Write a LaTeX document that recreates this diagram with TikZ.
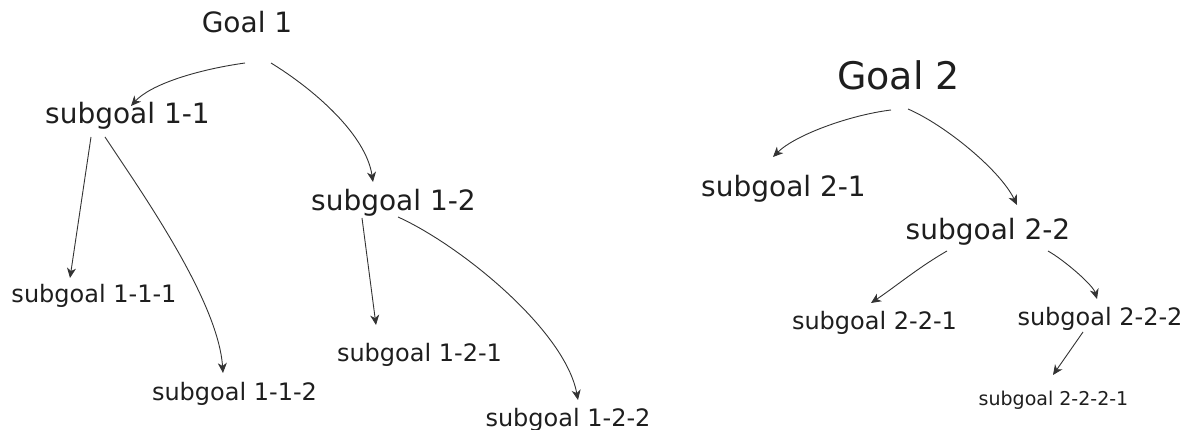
\documentclass[tikz,border=0pt]{standalone}
\usepackage{fontspec}
\setmainfont{DejaVu Sans}
\usetikzlibrary{arrows.meta}

\definecolor{inkgray}{HTML}{1E1E1E}
\definecolor{linegray}{HTML}{333333}

\tikzset{
  goalbig/.style={anchor=base, inner sep=0pt, text=inkgray, font=\fontsize{38}{40}\selectfont},
  goal/.style={anchor=base, inner sep=0pt, text=inkgray, font=\fontsize{28}{30}\selectfont},
  subgoal/.style={anchor=base, inner sep=0pt, text=inkgray, font=\fontsize{24}{26}\selectfont},
  subsub/.style={anchor=base, inner sep=0pt, text=inkgray, font=\fontsize{19}{21}\selectfont},
  link/.style={-{Stealth[length=10pt,width=9pt,inset=3pt]}, draw=linegray, line width=0.9pt}
}

\begin{document}
\begin{tikzpicture}[x=1pt, y=-1pt]
    \useasboundingbox (0,0) rectangle (1189,430);

    % first tree
    \node[goal] (g1) at (247,33) {Goal 1};
    \node[goal] (s11) at (127.5,124) {subgoal 1-1};
    \node[goal] (s12) at (393.5,211) {subgoal 1-2};
    \node[subgoal] (s111) at (94,303) {subgoal 1-1-1};
    \node[subgoal] (s112) at (234.5,400) {subgoal 1-1-2};
    \node[subgoal] (s121) at (419.5,361) {subgoal 1-2-1};
    \node[subgoal] (s122) at (568,426) {subgoal 1-2-2};

    \draw [link] ([shift={(-2,30)}]g1.base) .. controls +(-50,7) and +(19,-21) .. ([shift={(3.5,-18)}]s11.base);
    \draw [link] ([shift={(24,30)}]g1.base) .. controls +(44,27) and +(-7,-47) .. ([shift={(-20.5,-29)}]s12.base);
    \draw [link] ([shift={(-36.5,13)}]s11.base) -- ([shift={(-24,-25)}]s111.base);
    \draw [link] ([shift={(-22.5,13)}]s11.base) .. controls +(35,53) and +(-5,-73) .. ([shift={(-11.5,-27)}]s112.base);
    \draw [link] ([shift={(-31.5,7)}]s12.base) -- ([shift={(-43.5,-36)}]s121.base);
    \draw [link] ([shift={(4.5,6)}]s12.base) .. controls +(62,28) and +(-13,-70) .. ([shift={(10,-26)}]s122.base);

    % second tree
    \node[goalbig] (g2) at (898.5,90) {Goal 2};
    \node[goal] (s21) at (783.5,197) {subgoal 2-1};
    \node[goal] (s22) at (988,240) {subgoal 2-2};
    \node[subgoal] (s221) at (874.5,330) {subgoal 2-2-1};
    \node[subgoal] (s222) at (1100,326) {subgoal 2-2-2};
    \node[subsub] (s2221) at (1053.5,405) {subgoal 2-2-2-1};

    \draw [link] ([shift={(-7.5,20)}]g2.base) .. controls +(-41,5) and +(22,-22) .. ([shift={(-10.5,-40)}]s21.base);
    \draw [link] ([shift={(9.5,19)}]g2.base) .. controls +(37,16) and +(-17,-35) .. ([shift={(29,-35)}]s22.base);
    \draw [link] ([shift={(-41,11)}]s22.base) .. controls +(-28,16) and +(24,-16) .. ([shift={(-3.5,-27)}]s221.base);
    \draw [link] ([shift={(60,11)}]s22.base) .. controls +(16,9) and +(-4,-14) .. ([shift={(-3,-27)}]s222.base);
    \draw [link] ([shift={(-17,6)}]s222.base) -- ([shift={(-0.5,-30)}]s2221.base);
\end{tikzpicture}
\end{document}
